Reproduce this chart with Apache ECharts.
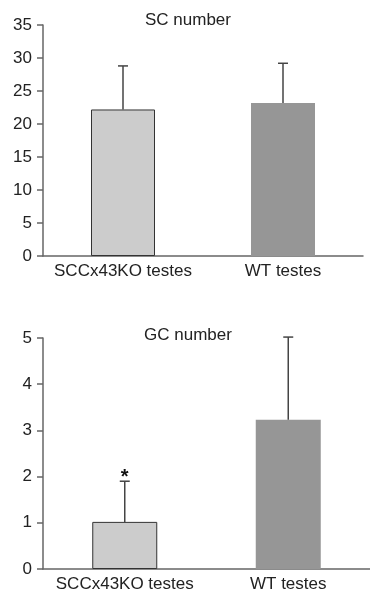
<!DOCTYPE html>
<html>
<head>
<meta charset="utf-8">
<script src="https://cdn.jsdelivr.net/npm/echarts@6/dist/echarts.min.js"></script>
<style>
  html, body { margin: 0; padding: 0; background: #fff; }
  #chart { width: 370px; height: 598px; }
</style>
</head>
<body>
<div id="chart"></div>
<script>
// data
const categories = ['SCCx43KO testes', 'WT testes']
const scMean = [22.2, 23.2]
const scSd = [6.6, 6.0]
const gcMean = [1.02, 3.23]
const gcSd = [0.88, 1.79]
const gcSig = ['*', '']
const scTicks = { min: 0, max: 35, interval: 5 }
const gcTicks = { min: 0, max: 5, interval: 1 }

const barColors = ['#cccccc', '#969696']
const fontFamily = '"Liberation Sans", Arial, sans-serif'

const chart = echarts.init(document.getElementById('chart'))

// error bar (upper only) + significance mark
const errorBar = (sig) => (params, api) => {
  const i = api.value(0)
  const mean = api.value(1)
  const sd = api.value(2)
  const base = api.coord([i, mean])
  const top = api.coord([i, mean + sd])
  const children = [
    { type: 'line', shape: { x1: base[0], y1: base[1], x2: top[0], y2: top[1] },
      style: { stroke: '#444', lineWidth: 1.5 } },
    { type: 'line', shape: { x1: top[0] - 5, y1: top[1], x2: top[0] + 5, y2: top[1] },
      style: { stroke: '#444', lineWidth: 1.5 } }
  ]
  if (sig && sig[i]) {
    children.push({
      type: 'text',
      style: { text: sig[i], x: top[0], y: top[1] + 6, align: 'center', verticalAlign: 'bottom',
        fontSize: 20, fontWeight: 'bold', fill: '#111', fontFamily }
    })
  }
  return { type: 'group', children }
}

const xAxisBase = (gridIndex) => ({
  type: 'category',
  gridIndex,
  data: categories,
  axisLine: { lineStyle: { color: '#666', width: 1.5 } },
  axisTick: { length: 6, lineStyle: { color: '#666', width: 1.5 } },
  axisLabel: { color: '#222', fontSize: 17, fontFamily, margin: 7, interval: 0, hideOverlap: false }
})

const yAxisBase = (gridIndex, t) => ({
  type: 'value',
  gridIndex,
  min: t.min, max: t.max, interval: t.interval,
  axisLine: { show: true, lineStyle: { color: '#666', width: 1.5 } },
  axisTick: { show: true, length: 6, lineStyle: { color: '#666', width: 1.5 } },
  axisLabel: { color: '#222', fontSize: 17, fontFamily, margin: 11 },
  splitLine: { show: false }
})

const option = {
  animation: false,
  title: [
    { text: 'SC number', left: 183, top: 7, textAlign: 'center',
      textStyle: { fontSize: 17, fontWeight: 'normal', color: '#222', fontFamily } },
    { text: 'GC number', left: 183, top: 322, textAlign: 'center',
      textStyle: { fontSize: 17, fontWeight: 'normal', color: '#222', fontFamily } }
  ],
  grid: [
    { left: 43, right: 7, top: 25, height: 231 },
    { left: 43, right: 0, top: 338, height: 231 }
  ],
  xAxis: [xAxisBase(0), xAxisBase(1)],
  yAxis: [yAxisBase(0, scTicks), yAxisBase(1, gcTicks)],
  series: [
    {
      type: 'bar', xAxisIndex: 0, yAxisIndex: 0, barWidth: 64,
      data: scMean.map((v, i) => ({
        value: v,
        itemStyle: { color: barColors[i], borderColor: i === 0 ? '#333' : barColors[i], borderWidth: i === 0 ? 1 : 0 }
      }))
    },
    {
      type: 'custom', xAxisIndex: 0, yAxisIndex: 0,
      renderItem: errorBar(null),
      data: scMean.map((v, i) => [i, v, scSd[i]]),
      z: 5
    },
    {
      type: 'bar', xAxisIndex: 1, yAxisIndex: 1, barWidth: 65,
      data: gcMean.map((v, i) => ({
        value: v,
        itemStyle: { color: barColors[i], borderColor: i === 0 ? '#333' : barColors[i], borderWidth: i === 0 ? 1 : 0 }
      }))
    },
    {
      type: 'custom', xAxisIndex: 1, yAxisIndex: 1,
      renderItem: errorBar(gcSig),
      data: gcMean.map((v, i) => [i, v, gcSd[i]]),
      z: 5
    }
  ]
}

chart.setOption(option)
</script>
</body>
</html>
